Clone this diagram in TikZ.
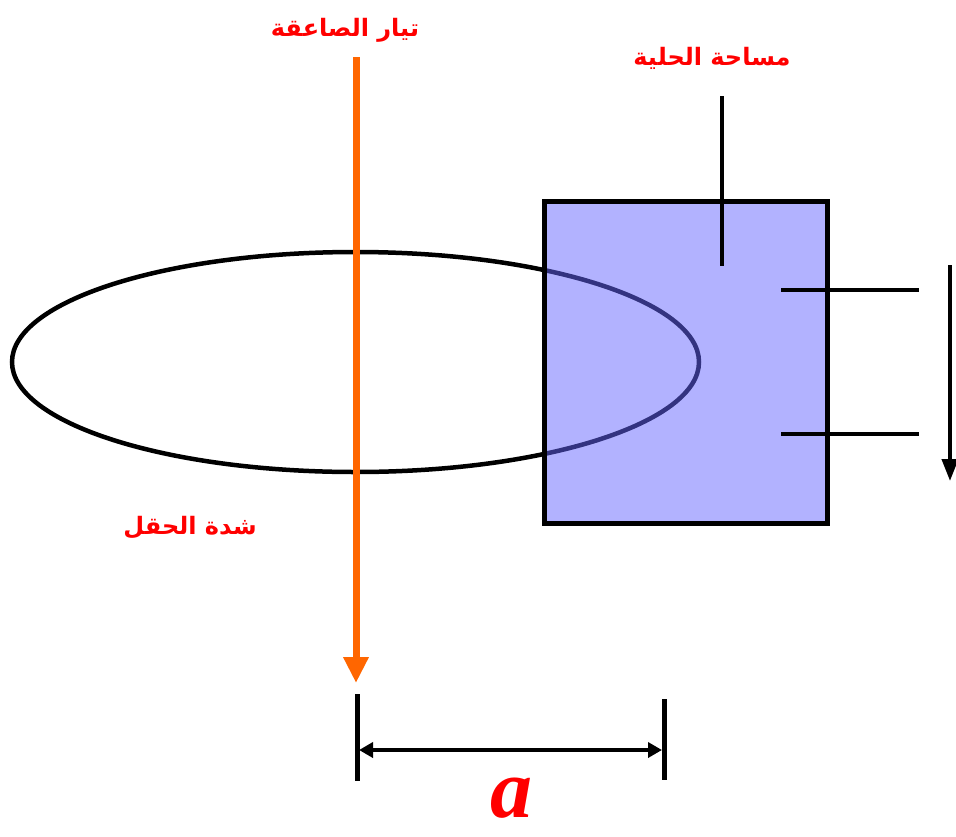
\documentclass[tikz,border=0pt]{standalone}
\usepackage{fontspec}
\usetikzlibrary{arrows.meta}
\TeXXeTstate=1
\newfontfamily\arabicfont[Script=Arabic]{DejaVu Sans}
\newfontfamily\timesfont{Liberation Serif}
\definecolor{boltorange}{RGB}{255,102,0}
\definecolor{loopfill}{RGB}{102,102,255}
\tikzset{
  artext/.style={text=red, font=\arabicfont\bfseries\fontsize{24}{28}\selectfont, inner sep=0pt},
  blk/.style={draw=black, line width=4pt},
}
\begin{document}
\begin{tikzpicture}[x=1pt,y=-1pt]
\useasboundingbox (0,0) rectangle (956,836);
% field loop
\draw[line width=4.5pt] (355.5,362) ellipse [x radius=343.5, y radius=110];
% loop area box
\fill[loopfill, fill opacity=0.5] (544,201) rectangle (827,523);
\draw[line width=5pt] (544,201) rectangle (827,523);
% lightning current
\coordinate (ctop) at (356,57);
\coordinate (cbot) at (356,683);
\draw[boltorange, line width=7pt, -{Triangle[length=26pt,width=24pt]}] (ctop) -- (cbot);
% pointer to loop area
\coordinate (p1) at (722,96);
\coordinate (p2) at (722,266);
\draw[blk] (p1) -- (p2);
% terminals
\coordinate (t1a) at (781,290);
\coordinate (t1b) at (919,290);
\coordinate (t2a) at (781,434);
\coordinate (t2b) at (919,434);
\draw[blk] (t1a) -- (t1b);
\draw[blk] (t2a) -- (t2b);
% voltage arrow
\coordinate (v1) at (950,265);
\coordinate (v2) at (950,481);
\draw[line width=4pt, -{Triangle[length=22pt,width=16pt]}] (v1) -- (v2);
% dimension
\coordinate (d1a) at (357,694);
\coordinate (d1b) at (357,781);
\coordinate (d2a) at (664,699);
\coordinate (d2b) at (664,780);
\draw[line width=5pt] (d1a) -- (d1b);
\draw[line width=5pt] (d2a) -- (d2b);
\coordinate (da) at (359,750);
\coordinate (db) at (662,750);
\draw[line width=4pt, {Triangle[length=14pt,width=15pt]}-{Triangle[length=14pt,width=15pt]}] (da) -- (db);
% labels
\node[artext] (lcur) at (345,30) {\beginR تيار الصاعقة\endR};
\node[artext] (larea) at (712,58) {\beginR مساحة الحلية\endR};
\node[artext] (lfield) at (190,528) {\beginR شدة الحقل\endR};
\node[text=red, font=\timesfont\bfseries\itshape\fontsize{84}{88}\selectfont, inner sep=0pt, anchor=base] (la) at (511,817) {a};
\end{tikzpicture}
\end{document}
